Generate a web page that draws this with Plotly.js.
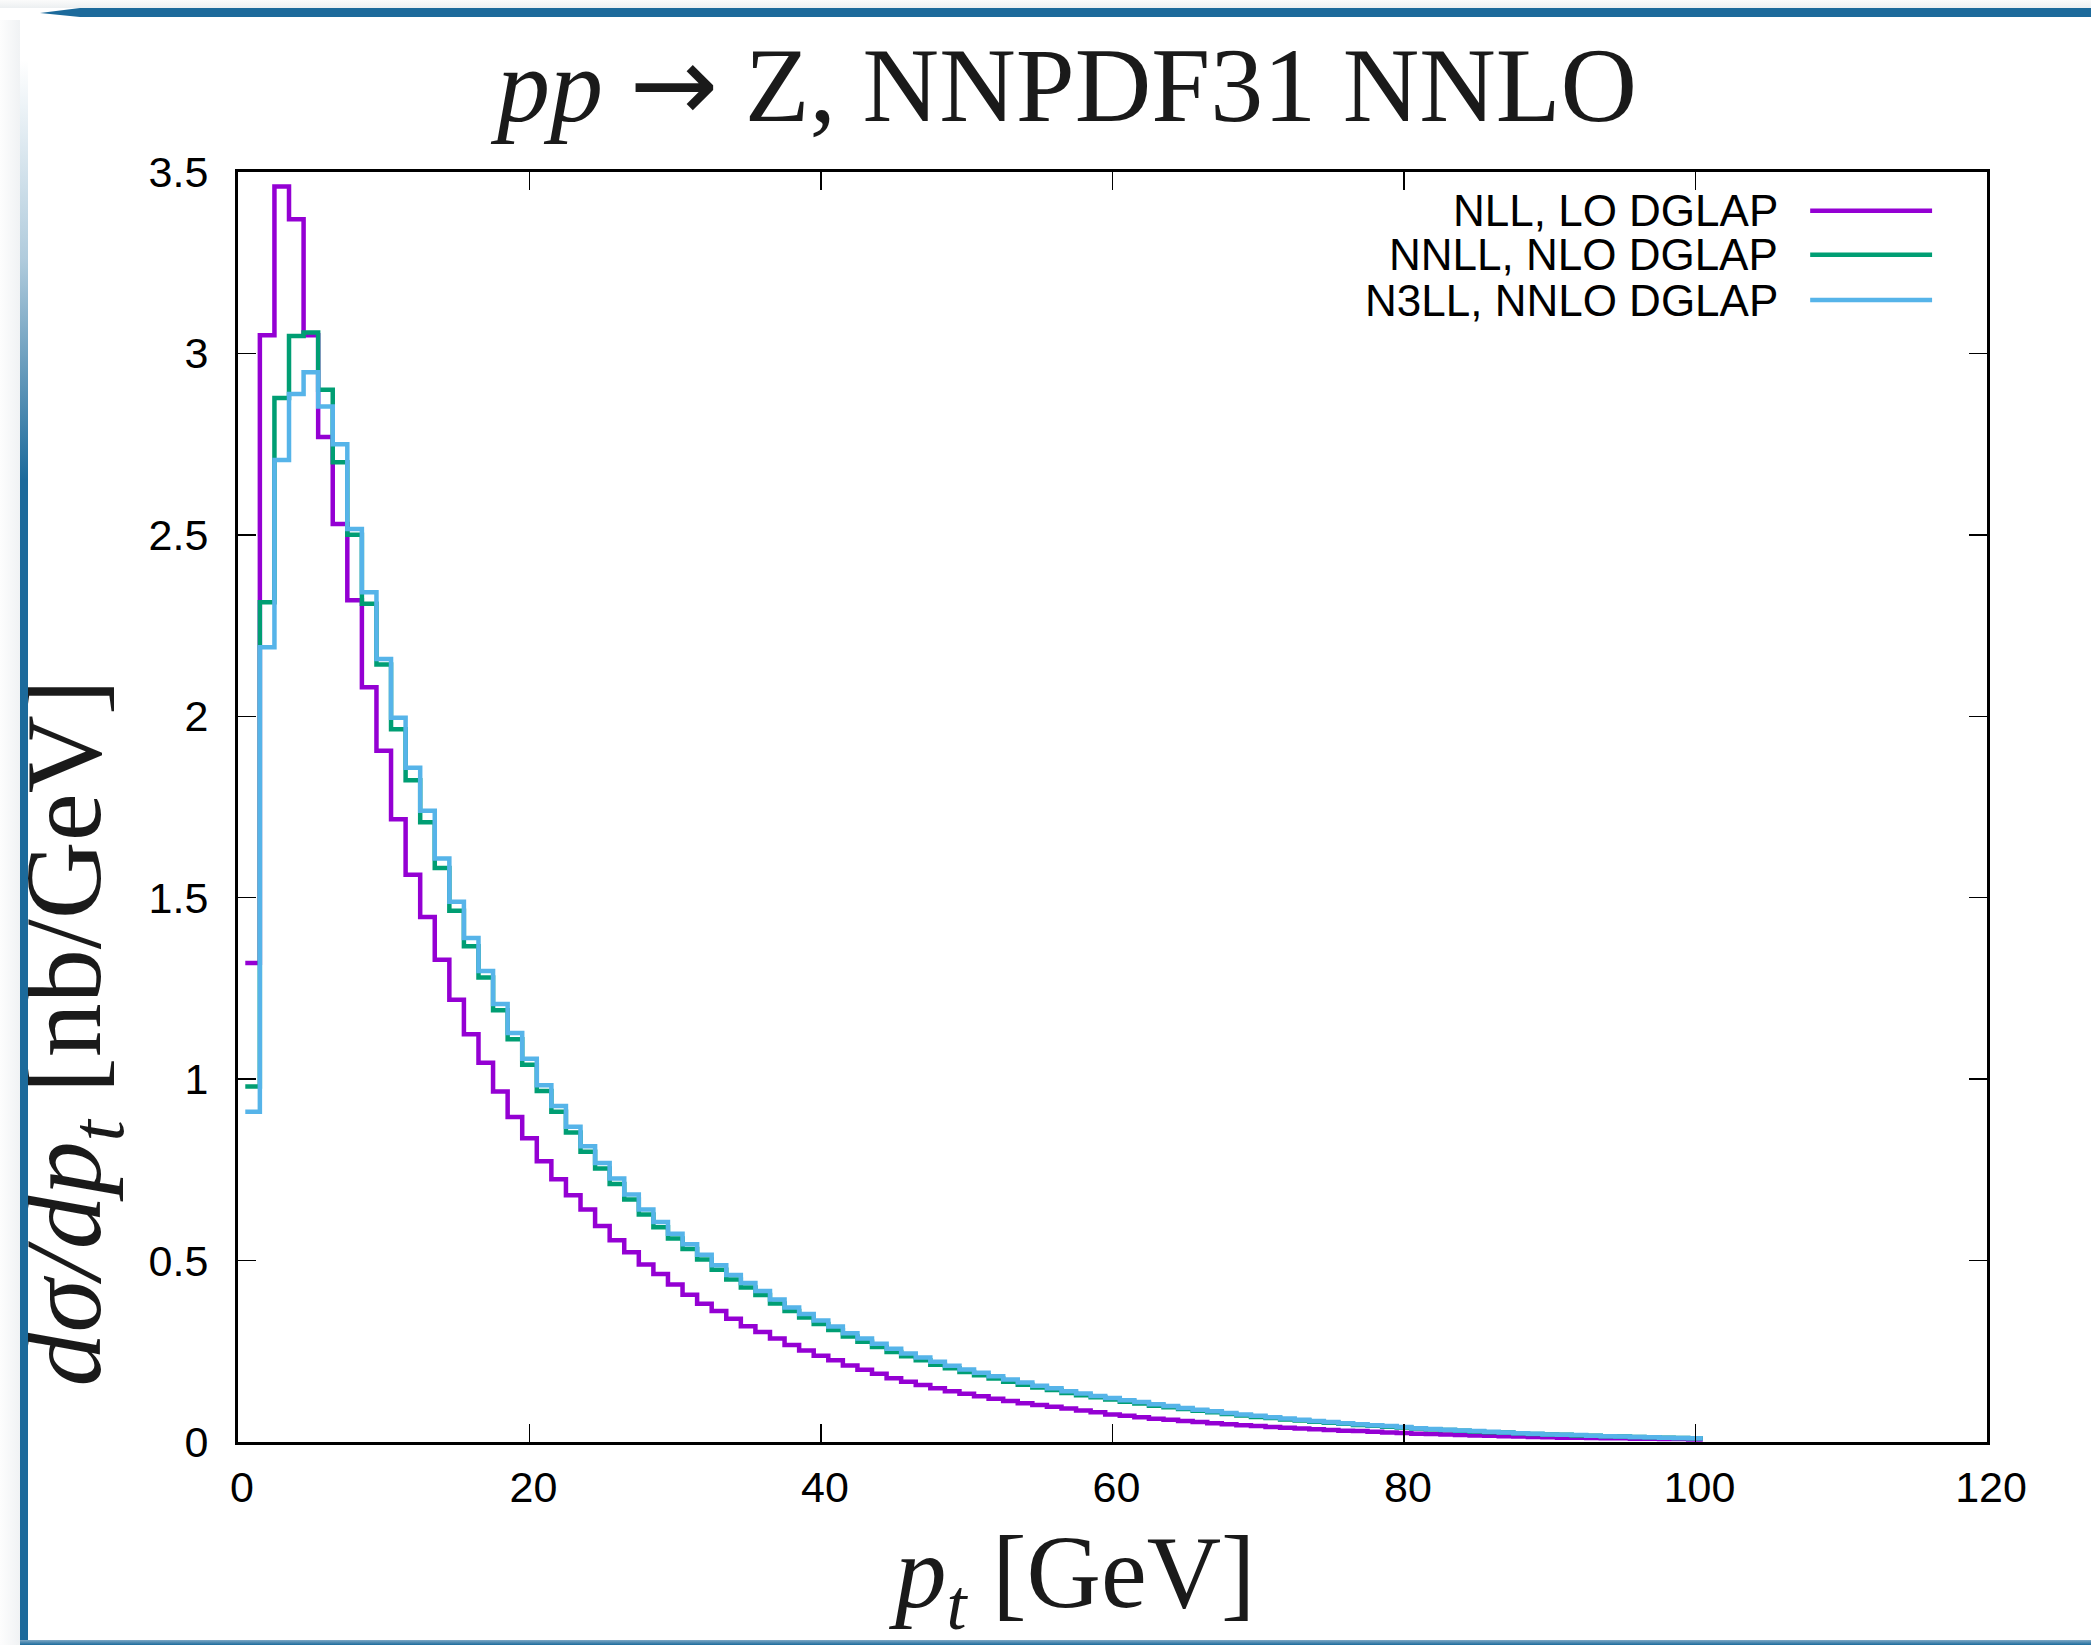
<!DOCTYPE html>
<html>
<head>
<meta charset="utf-8">
<script src="https://cdn.plot.ly/plotly-3.0.1.min.js"></script>
<style>
html,body{margin:0;padding:0;background:#fff;width:2091px;height:1645px;overflow:hidden;}
#chart{position:absolute;left:0;top:0;width:2091px;height:1645px;}
.deco{position:absolute;pointer-events:none;}
</style>
</head>
<body>
<div id="chart"></div>
<div class="deco" style="left:0;top:0;width:2091px;height:8px;background:linear-gradient(to bottom,#fbfbfb,#eceff1);"></div>
<div class="deco" style="left:40px;top:8px;width:2051px;height:9px;background:#1c6a9b;clip-path:polygon(0 55%,40px 0,100% 0,100% 100%,40px 100%);"></div>
<div class="deco" style="left:0;top:20px;width:20px;height:1625px;background:linear-gradient(to right,#fdfdfd,#f0f2f4);"></div>
<div class="deco" style="left:20px;top:60px;width:8px;height:1585px;background:linear-gradient(to bottom,rgba(28,106,155,0.0),rgba(28,106,155,0.35) 200px,#1c6a9b 420px);"></div>
<div class="deco" style="left:20px;top:1640px;width:2071px;height:5px;background:linear-gradient(to bottom,#7fa9c6,#1c6a9b);"></div>
<script>
// ---- data ----
const binWidth = 1; // GeV
const ptCenters = [1,2,3,4,5,6,7,8,9,10,11,12,13,14,15,16,17,18,19,20,
  21,22,23,24,25,26,27,28,29,30,31,32,33,34,35,36,37,38,39,40,
  41,42,43,44,45,46,47,48,49,50,51,52,53,54,55,56,57,58,59,60,
  61,62,63,64,65,66,67,68,69,70,71,72,73,74,75,76,77,78,79,80,
  81,82,83,84,85,86,87,88,89,90,91,92,93,94,95,96,97,98,99,100];

const seriesNames = ['NLL, LO DGLAP', 'NNLL, NLO DGLAP', 'N3LL, NNLO DGLAP'];
const seriesColors = ['#9400d3', '#009e73', '#56b4e9'];

const nllLO = [1.32, 3.05, 3.46, 3.37, 3.05, 2.77, 2.53, 2.32, 2.08, 1.905,
 1.716, 1.563, 1.447, 1.329, 1.219, 1.124, 1.045, 0.966, 0.896, 0.837,
 0.774, 0.724, 0.680, 0.641, 0.595, 0.556, 0.523, 0.489, 0.463, 0.434,
 0.406, 0.381, 0.361, 0.340, 0.319, 0.303, 0.285, 0.267, 0.252, 0.238,
 0.225, 0.211, 0.199, 0.188, 0.176, 0.166, 0.157, 0.148, 0.140, 0.133,
 0.126, 0.119, 0.113, 0.107, 0.102, 0.097, 0.092, 0.087, 0.082, 0.076,
 0.072, 0.068, 0.064, 0.061, 0.058, 0.055, 0.052, 0.049, 0.046, 0.044,
 0.041, 0.039, 0.037, 0.035, 0.033, 0.031, 0.030, 0.028, 0.026, 0.025,
 0.023, 0.022, 0.021, 0.019, 0.018, 0.017, 0.016, 0.015, 0.014, 0.013,
 0.012, 0.012, 0.011, 0.010, 0.010, 0.009, 0.009, 0.008, 0.008, 0.007];

const nnllNLO = [0.98, 2.314, 2.877, 3.048, 3.058, 2.90, 2.70, 2.50, 2.31, 2.143,
 1.964, 1.824, 1.708, 1.582, 1.464, 1.366, 1.28, 1.19, 1.11, 1.04,
 0.967, 0.910, 0.853, 0.800, 0.754, 0.711, 0.668, 0.627, 0.592, 0.561,
 0.532, 0.503, 0.475, 0.448, 0.426, 0.405, 0.382, 0.361, 0.343, 0.325,
 0.309, 0.291, 0.276, 0.262, 0.248, 0.236, 0.225, 0.213, 0.203, 0.193,
 0.184, 0.175, 0.166, 0.158, 0.150, 0.143, 0.135, 0.129, 0.123, 0.117,
 0.111, 0.106, 0.100, 0.096, 0.091, 0.086, 0.082, 0.077, 0.073, 0.069,
 0.066, 0.062, 0.059, 0.056, 0.053, 0.050, 0.047, 0.045, 0.042, 0.040,
 0.037, 0.035, 0.033, 0.031, 0.029, 0.027, 0.026, 0.024, 0.022, 0.021,
 0.020, 0.018, 0.017, 0.016, 0.015, 0.014, 0.013, 0.012, 0.011, 0.010];

const n3llNNLO = [0.91, 2.19, 2.706, 2.888, 2.948, 2.854, 2.75, 2.516, 2.342, 2.158,
 1.996, 1.858, 1.74, 1.608, 1.489, 1.389, 1.298, 1.207, 1.127, 1.056,
 0.983, 0.926, 0.869, 0.815, 0.769, 0.726, 0.682, 0.641, 0.606, 0.574,
 0.545, 0.516, 0.487, 0.460, 0.438, 0.416, 0.393, 0.371, 0.353, 0.335,
 0.318, 0.300, 0.285, 0.271, 0.257, 0.244, 0.233, 0.221, 0.210, 0.200,
 0.191, 0.181, 0.172, 0.164, 0.155, 0.148, 0.140, 0.134, 0.127, 0.121,
 0.115, 0.110, 0.104, 0.099, 0.094, 0.089, 0.085, 0.080, 0.076, 0.072,
 0.068, 0.065, 0.061, 0.058, 0.055, 0.052, 0.049, 0.046, 0.044, 0.041,
 0.038, 0.036, 0.034, 0.032, 0.030, 0.028, 0.026, 0.024, 0.023, 0.021,
 0.020, 0.019, 0.017, 0.016, 0.015, 0.014, 0.013, 0.012, 0.011, 0.010];

const xTickVals = [0, 20, 40, 60, 80, 100, 120];
const yTickVals = [0, 0.5, 1, 1.5, 2, 2.5, 3, 3.5];
const yTickText = ['0', '0.5', '1', '1.5', '2', '2.5', '3', '3.5'];

// ---- build histogram-step traces (gnuplot histeps style) ----
function stepX(c) {
  const xs = c.map(v => v - binWidth / 2);
  xs.push(c[c.length - 1] + binWidth / 2);
  return xs;
}
function stepY(v) {
  const ys = v.slice();
  ys.push(v[v.length - 1]);
  return ys;
}
const allSeries = [nllLO, nnllNLO, n3llNNLO];
const traces = allSeries.map((vals, i) => ({
  type: 'scatter', mode: 'lines', name: seriesNames[i],
  x: stepX(ptCenters), y: stepY(vals),
  line: {shape: 'hv', width: 4.5, color: seriesColors[i]},
  showlegend: false
}));

// ---- manual gnuplot-style legend (text right, line sample on the right) ----
const legendRowsY = [0.9695, 0.9349, 0.8992];
const annotations = seriesNames.map((n, i) => ({
  xref: 'paper', yref: 'paper', x: 0.8817, y: legendRowsY[i],
  xanchor: 'right', yanchor: 'middle', showarrow: false, text: n,
  font: {family: 'Liberation Sans, Arial, sans-serif', size: 44, color: '#000'}
}));
const shapes = seriesNames.map((n, i) => ({
  type: 'line', xref: 'paper', yref: 'paper',
  x0: 0.8989, x1: 0.9686, y0: legendRowsY[i], y1: legendRowsY[i],
  line: {color: seriesColors[i], width: 4.5}
}));

// axis titles
annotations.push({
  xref: 'paper', yref: 'paper', x: 0.4766, y: -0.109, xanchor: 'center', yanchor: 'middle',
  showarrow: false, text: '<i>p<sub>t</sub></i> [GeV]',
  font: {family: 'Liberation Serif, Times New Roman, serif', size: 103, color: '#1a1a1a'}
});
annotations.push({
  xref: 'paper', yref: 'paper', x: -0.0954, y: 0.3218, xanchor: 'center', yanchor: 'middle',
  textangle: -90, showarrow: false, text: '<i>dσ/dp<sub>t</sub></i> [nb/GeV]',
  font: {family: 'Liberation Serif, Times New Roman, serif', size: 108, color: '#1a1a1a'}
});

const axisCommon = {
  ticks: 'inside', ticklen: 18, tickwidth: 1.5, tickcolor: '#000',
  showline: true, linewidth: 3, linecolor: '#000', mirror: 'ticks',
  showgrid: false, zeroline: false,
  tickfont: {family: 'Liberation Sans, Arial, sans-serif', size: 43, color: '#000'}
};

const layout = {
  width: 2091, height: 1645,
  margin: {l: 238, r: 104, t: 172, b: 203, pad: 0},
  paper_bgcolor: 'rgba(0,0,0,0)', plot_bgcolor: '#fff',
  showlegend: false,
  title: {
    text: '<i>pp</i> <span style="font-family:DejaVu Sans">→</span> Z, NNPDF31 NNLO',
    font: {family: 'Liberation Serif, Times New Roman, serif', size: 106, color: '#1a1a1a'},
    x: 0.5103, xref: 'container', xanchor: 'center',
    y: 0.949, yref: 'container', yanchor: 'middle'
  },
  xaxis: Object.assign({}, axisCommon, {
    range: [0, 120], tickmode: 'array', tickvals: xTickVals,
    ticklabelstandoff: 5, ticklabelshift: 4
  }),
  yaxis: Object.assign({}, axisCommon, {
    range: [0, 3.5], tickmode: 'array', tickvals: yTickVals, ticktext: yTickText,
    ticklabelstandoff: 18
  }),
  annotations: annotations,
  shapes: shapes
};

Plotly.newPlot('chart', traces, layout, {staticPlot: true, displayModeBar: false});
</script>
</body>
</html>
